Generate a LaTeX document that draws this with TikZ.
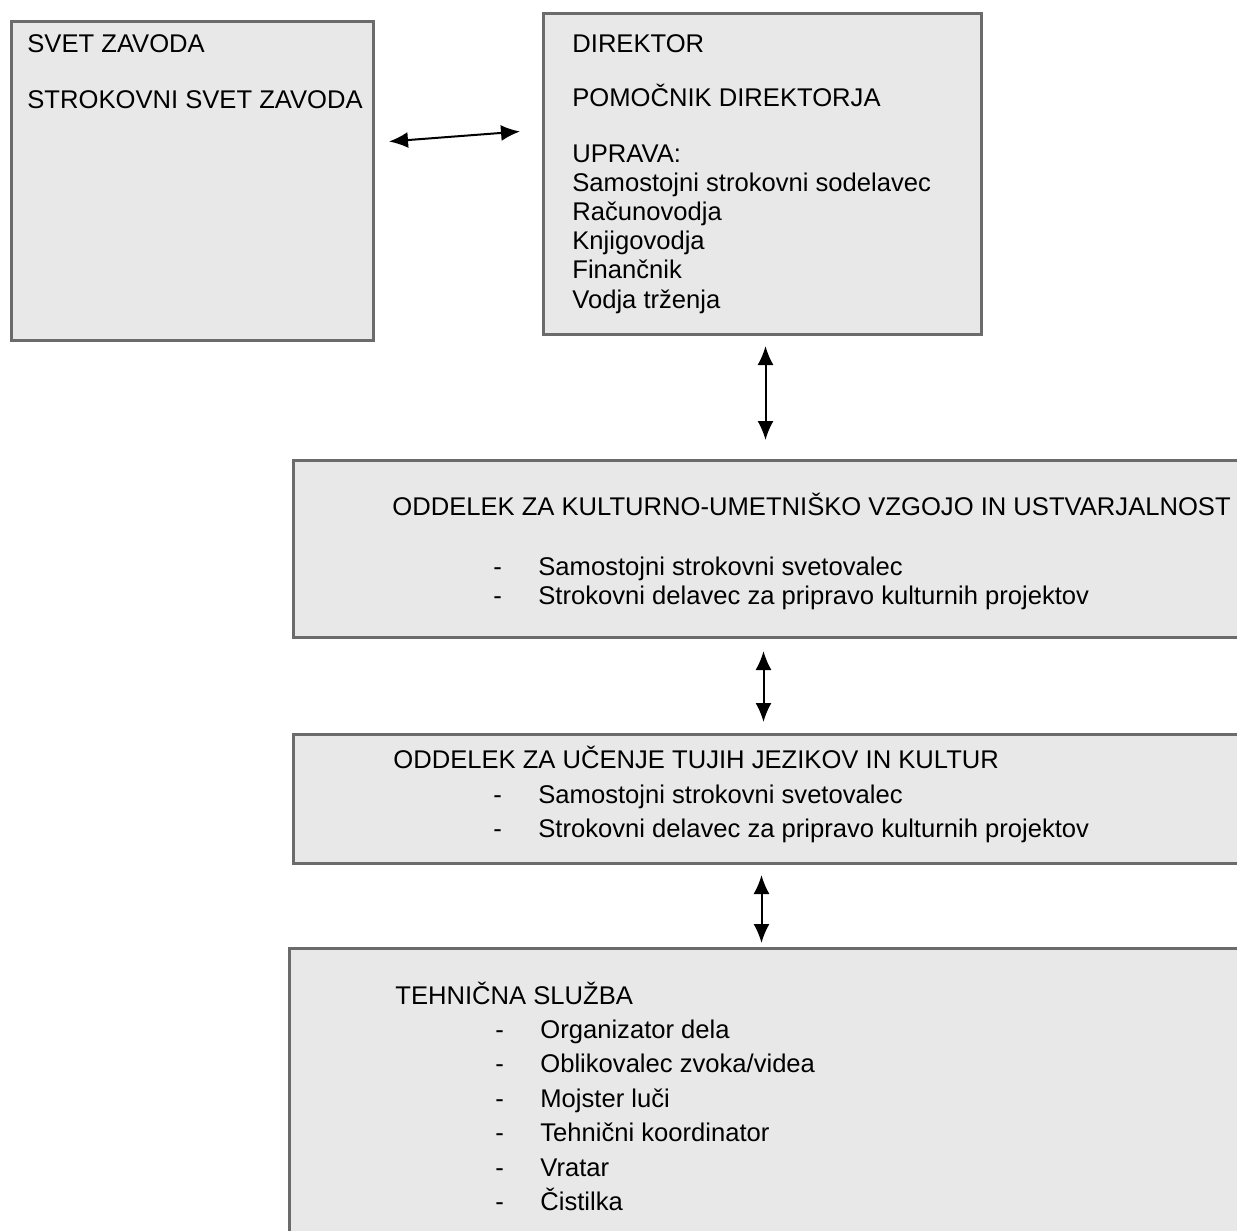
\documentclass[tikz,border=0pt]{standalone}
\usepackage{fontspec}
\setmainfont{Liberation Sans}
\usetikzlibrary{arrows.meta}

\begin{document}
\begin{tikzpicture}[x=0.5pt,y=-0.5pt,>={Latex[length=9.5pt,width=8pt]},
every node/.style={font=\fontsize{12.8}{15}\selectfont,inner sep=0pt},
box/.style={draw=black!58,line width=1.5pt,fill=black!9,anchor=north west},
txt/.style={anchor=base west},
link/.style={<->,line width=1pt}]

\useasboundingbox (0,0) rectangle (1237,1231);

% boxes
\node[box,minimum width=181pt,minimum height=159.5pt] (svet) at (10,20) {};
\node[box,minimum width=219pt,minimum height=160.5pt] (dir) at (542,12) {};
\node[box,minimum width=479pt,minimum height=88.5pt] (kult) at (292,459) {};
\node[box,minimum width=479pt,minimum height=64.5pt] (jezik) at (292,733) {};
\node[box,minimum width=481pt,minimum height=149pt] (teh) at (288,947) {};

% svet zavoda
\node[txt] (svet1) at (27,53) {SVET ZAVODA};
\node[txt] (svet2) at (27,108) {STROKOVNI SVET ZAVODA};

% direktor
\node[txt] (dir1) at (572,52) {DIREKTOR};
\node[txt] (dir2) at (572,106) {POMOČNIK DIREKTORJA};
\node[txt] (upr) at (572,162) {UPRAVA:};
\foreach \t [count=\i] in {Samostojni strokovni sodelavec,Računovodja,Knjigovodja,Finančnik,Vodja trženja}
  \node[txt] (upr\i) at (572,{162+29.2*\i}) {\t};

% oddelek za kulturno-umetnisko vzgojo
\node[txt] (kult0) at (392,515) {ODDELEK ZA KULTURNO-UMETNIŠKO VZGOJO IN USTVARJALNOST};
\foreach \t [count=\i] in {Samostojni strokovni svetovalec,Strokovni delavec za pripravo kulturnih projektov}{
  \node[txt] (kultd\i) at (493,{546+29*\i}) {-};
  \node[txt] (kult\i) at (538,{546+29*\i}) {\t};
}

% oddelek za ucenje tujih jezikov
\node[txt] (jez0) at (393,768) {ODDELEK ZA UČENJE TUJIH JEZIKOV IN KULTUR};
\foreach \t [count=\i] in {Samostojni strokovni svetovalec,Strokovni delavec za pripravo kulturnih projektov}{
  \node[txt] (jezd\i) at (493,{769+34*\i}) {-};
  \node[txt] (jez\i) at (538,{769+34*\i}) {\t};
}

% tehnicna sluzba
\node[txt] (teh0) at (395,1004) {TEHNIČNA SLUŽBA};
\foreach \t [count=\i] in {Organizator dela,Oblikovalec zvoka/videa,Mojster luči,Tehnični koordinator,Vratar,Čistilka}{
  \node[txt] (tehd\i) at (495,{1003.5+34.5*\i}) {-};
  \node[txt] (teh\i) at (540,{1003.5+34.5*\i}) {\t};
}

% povezave
\draw[link] ([shift={(14,-39.5)}]svet.east) -- ([shift={(-22,-42.5)}]dir.west);
\draw[link,shorten <=5pt,shorten >=9.5pt] (dir.south) ++(3,0) coordinate (d1) -- (d1 |- kult.north);
\draw[link,shorten <=6pt,shorten >=5.5pt] (d1 |- kult.south) ++(-2,0) coordinate (d2) -- (d2 |- jezik.north);
\draw[link,shorten <=5pt,shorten >=2pt] (d2 |- jezik.south) ++(-2,0) coordinate (d3) -- (d3 |- teh.north);

\end{tikzpicture}
\end{document}
